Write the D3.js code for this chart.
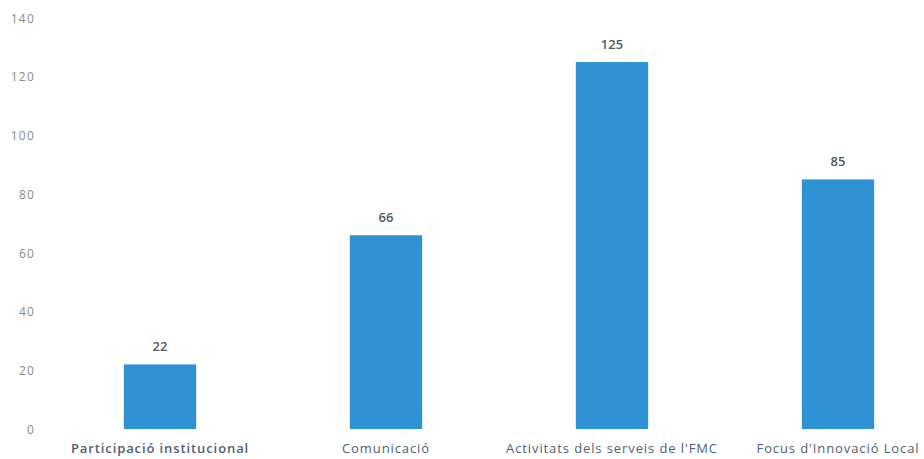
<!DOCTYPE html>
<html>
<head>
<meta charset="utf-8">
<script src="https://cdn.jsdelivr.net/npm/d3@7"></script>
<style>
  body { margin: 0; background: #fff; }
  text { font-family: "Open Sans", Lato, sans-serif; }
</style>
</head>
<body>
<div id="chart"></div>
<script>
var categories = ["Participació institucional", "Comunicació", "Activitats dels serveis de l'FMC", "Focus d'Innovació Local"];
var values = [22, 66, 125, 85];
var yTicks = [0, 20, 40, 60, 80, 100, 120, 140];

var width = 924, height = 459;

var svg = d3.select("#chart").append("svg")
  .attr("width", width).attr("height", height);

var x = d3.scaleBand().domain(categories).range([47, 951])
  .paddingInner(0.68).paddingOuter(0.34);

var y = d3.scaleLinear().domain([0, 140]).range([429, 18]);

// y axis labels
var yAxis = svg.append("g").attr("transform", "translate(35,0)")
  .call(d3.axisLeft(y).tickValues(yTicks).tickSize(0).tickPadding(0));
yAxis.select(".domain").remove();
yAxis.selectAll("text").attr("fill", "#8a8a8a")
  .style("font-family", "'Open Sans', sans-serif")
  .style("font-size", "12px")
  .style("letter-spacing", "1.2px")
  .attr("dy", "0.35em");

// bars
svg.selectAll(".bar").data(values).enter().append("rect")
  .attr("class", "bar")
  .attr("x", function (d, i) { return x(categories[i]); })
  .attr("y", function (d) { return y(d); })
  .attr("width", x.bandwidth())
  .attr("height", function (d) { return y(0) - y(d); })
  .attr("fill", "#2f92d2");

// value labels
svg.selectAll(".val").data(values).enter().append("text")
  .attr("class", "val")
  .attr("x", function (d, i) { return x(categories[i]) + x.bandwidth() / 2; })
  .attr("y", function (d) { return y(d) - 13; })
  .attr("text-anchor", "middle")
  .attr("fill", "#505a63")
  .style("font-size", "13px")
  .style("font-weight", "600")
  .text(function (d) { return d; });

// category labels, kept inside the picture
svg.selectAll(".cat").data(categories).enter().append("text")
  .attr("class", "cat")
  .attr("x", function (d) { return x(d) + x.bandwidth() / 2; })
  .attr("y", 453)
  .attr("text-anchor", "middle")
  .attr("fill", "#4d5f70")
  .style("font-size", "13px")
  .style("letter-spacing", "0.9px")
  .style("font-weight", function (d, i) { return i == 0 ? "600" : "normal"; })
  .text(function (d) { return d; })
  .each(function () {
    var b = this.getBBox();
    if (b.x + b.width > width - 2) {
      d3.select(this).attr("x", +d3.select(this).attr("x") - (b.x + b.width - width + 2));
    }
  });
</script>
</body>
</html>
